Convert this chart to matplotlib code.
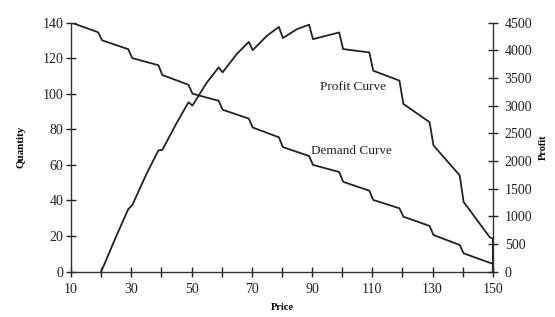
import matplotlib
matplotlib.use('Agg')
import matplotlib.pyplot as plt

plt.rcParams['font.family'] = ['Liberation Serif', 'DejaVu Serif']

# demand curve (price, quantity)
demand_price = [10, 19, 20.3, 29, 30.3, 39, 40.3, 49, 50.3, 59, 60.3, 69, 70.3, 79, 80.3,
                89, 90.3, 99, 100.3, 109, 110.3, 119, 120.3, 129, 130.3, 139, 140.3, 149, 150]
demand_qty = [140, 134.5, 130, 125, 120, 116, 110.5, 105, 100, 96, 91, 86, 81, 75.5, 70,
              65, 60, 56, 50.5, 45.5, 40.3, 35.6, 30.9, 25.7, 20.6, 15, 10.3, 5, 4.5]

# profit curve (price, profit)
profit_price = [20, 25, 29, 30.3, 35, 39, 40.3, 45, 49, 50.3, 55, 59, 60.3, 65, 69, 70.3,
                75, 79, 80.3, 85, 89, 90.3, 99, 100.3, 109, 110.3, 119, 120.3, 129, 130.3,
                139, 140.3, 149, 150, 150]
profit_val = [0, 640, 1130, 1200, 1760, 2190, 2200, 2680, 3060, 3000, 3410, 3690, 3600,
              3930, 4150, 4000, 4260, 4420, 4220, 4380, 4460, 4200, 4320, 4020, 3960,
              3630, 3450, 3030, 2700, 2280, 1740, 1260, 620, 600, 0]

x_ticks = [10, 30, 50, 70, 90, 110, 130, 150]

fig = plt.figure(figsize=(5.55, 3.17), dpi=100)
ax1 = fig.add_axes([0.128, 0.143, 0.76, 0.786])
ax2 = ax1.twinx()

ax1.plot(demand_price, demand_qty, color='#222222', lw=1.3)
ax2.plot(profit_price, profit_val, color='#222222', lw=1.3)

ax1.set_xlim(10, 150)
ax1.set_ylim(0, 140)
ax2.set_ylim(0, 4500)
ax1.set_xticks(x_ticks)
ax1.set_xticks(range(10, 151, 10), minor=True)
ax1.set_yticks(range(0, 141, 20))
ax2.set_yticks(range(0, 4501, 500))

for a in (ax1, ax2):
    a.spines['top'].set_visible(False)
    for s in a.spines.values():
        s.set_linewidth(1.0)
        s.set_color('#333333')
ax1.spines['right'].set_visible(False)
ax2.spines['left'].set_visible(False)
ax2.spines['bottom'].set_visible(False)

ax1.tick_params(axis='both', which='both', direction='inout', length=7, width=1,
                labelsize=10, colors='#222222')
ax1.tick_params(axis='x', pad=5)
ax1.tick_params(axis='y', pad=2)
ax2.tick_params(axis='y', direction='inout', length=7, width=1, labelsize=10,
                colors='#222222', pad=5)

ax1.set_xlabel('Price', fontsize=7.5, fontweight='bold', labelpad=5)
ax1.set_ylabel('Quantity', fontsize=8, fontweight='bold', labelpad=12)
ax2.set_ylabel('Profit', fontsize=7.5, fontweight='bold', labelpad=5)

ax1.text(103.5, 104, 'Profit Curve', fontsize=9.5, ha='center', va='center', color='#222222')
ax1.text(103, 68, 'Demand Curve', fontsize=9.5, ha='center', va='center', color='#222222')

fig.savefig('out.png', dpi=100)
